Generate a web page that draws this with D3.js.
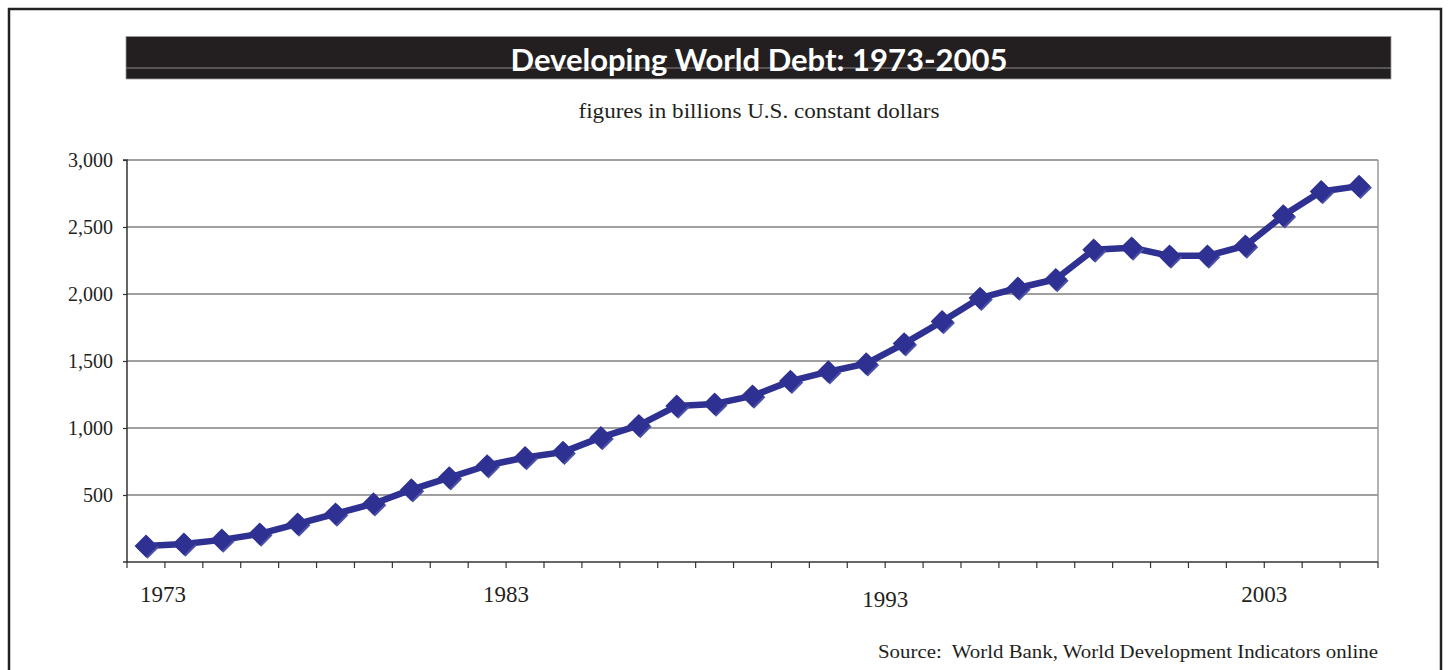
<!DOCTYPE html>
<html><head><meta charset="utf-8">
<script src="https://cdn.jsdelivr.net/npm/d3@7"></script>
<style>
html,body{margin:0;padding:0;background:#fff;}
svg{display:block;}
text{white-space:pre;}
</style></head>
<body>
<svg id="chart" width="1449" height="670"></svg>
<script>
const titleText = "Developing World Debt: 1973-2005";
const subtitleText = "figures in billions U.S. constant dollars";
const sourceText = "Source:  World Bank, World Development Indicators online";
const years = d3.range(1973, 2006);
const debt = [120,135,165,210,285,360,435,540,630,720,780,820,930,1020,1165,1180,1240,1350,1420,1480,1630,1795,1970,2045,2110,2330,2345,2285,2285,2360,2585,2765,2805];
const yTicks = [500,1000,1500,2000,2500,3000];
const xLabelYears = [1973,1983,1993,2003];

const svg = d3.select("#chart");
const plot = {left:127, right:1378, top:160, bottom:562};

// outer frame
svg.append("rect").attr("x",9).attr("y",9).attr("width",1432).attr("height",700)
  .attr("fill","none").attr("stroke","#222").attr("stroke-width",2.5);

// title bar
svg.append("rect").attr("x",126).attr("y",36.5).attr("width",1265).attr("height",42.5)
  .attr("fill","#231f20").attr("stroke","#999").attr("stroke-width",0.8);
svg.append("line").attr("x1",126).attr("x2",1391).attr("y1",68).attr("y2",68)
  .attr("stroke","#8a8a8a").attr("stroke-width",1);
svg.append("text").attr("x",759).attr("y",71).attr("text-anchor","middle")
  .attr("font-family","Lato, 'Open Sans', sans-serif").attr("font-weight","bold")
  .attr("font-size",31).attr("fill","#fff")
  .attr("textLength",497).attr("lengthAdjust","spacingAndGlyphs")
  .text(titleText);

svg.append("text").attr("x",759).attr("y",118).attr("text-anchor","middle")
  .attr("font-family","'Liberation Serif', serif").attr("font-size",20).attr("fill","#231f20")
  .attr("textLength",361).attr("lengthAdjust","spacingAndGlyphs")
  .text(subtitleText);

const x = d3.scaleBand().domain(years).range([plot.left, plot.right]).padding(0);
const y = d3.scaleLinear().domain([0,3000]).range([plot.bottom, plot.top]);

// gridlines
svg.append("g").selectAll("line").data(yTicks).join("line")
  .attr("x1",plot.left).attr("x2",plot.right)
  .attr("y1",d=>y(d)).attr("y2",d=>y(d))
  .attr("stroke","#808080").attr("stroke-width",1.5);

// right border
svg.append("line").attr("x1",plot.right).attr("x2",plot.right).attr("y1",plot.top).attr("y2",plot.bottom)
  .attr("stroke","#9a9a9a").attr("stroke-width",1.5);

// y axis
const yAxis = d3.axisLeft(y).tickValues(yTicks).tickSize(4).tickPadding(10)
  .tickFormat(d3.format(","));
const gy = svg.append("g").attr("transform",`translate(${plot.left},0)`).call(yAxis);
gy.select(".domain").attr("stroke","#333").attr("stroke-width",1.5).attr("d",`M-4,${plot.bottom}H0V${plot.top}H-4`);
gy.selectAll(".tick line").attr("stroke","#333").attr("stroke-width",1.2);
gy.selectAll(".tick text").attr("font-family","'Liberation Serif', serif").attr("font-size",20).attr("fill","#231f20");

// x axis: ticks at band boundaries
const boundaries = years.map(d=>x(d)).concat([x(years[years.length-1])+x.bandwidth()]);
const gx = svg.append("g");
gx.append("line").attr("x1",plot.left).attr("x2",plot.right).attr("y1",plot.bottom).attr("y2",plot.bottom)
  .attr("stroke","#333").attr("stroke-width",1.5);
gx.selectAll("line.tk").data(boundaries).join("line").attr("class","tk")
  .attr("x1",d=>d).attr("x2",d=>d).attr("y1",plot.bottom).attr("y2",plot.bottom+6)
  .attr("stroke","#333").attr("stroke-width",1.2);
gx.selectAll("text").data(xLabelYears).join("text")
  .attr("x",d=> d===1973 ? x(d)+x.bandwidth()-2 : x(d))
  .attr("y",d=> d===1993 ? 607 : 602)
  .attr("text-anchor","middle")
  .attr("font-family","'Liberation Serif', serif").attr("font-size",23).attr("fill","#231f20")
  .text(d=>d);

// line
const cx = d=>x(d)+x.bandwidth()/2;
const line = d3.line().x((d,i)=>cx(years[i])).y(d=>y(d));
svg.append("path").datum(debt).attr("d",line)
  .attr("fill","none").attr("stroke","#2e3192").attr("stroke-width",6.5).attr("stroke-linejoin","round");

// markers with slight shadow
const diamond = d3.symbol().type(d3.symbolDiamond2).size(330);
const mk = svg.append("g");
mk.selectAll("path.sh").data(debt).join("path").attr("class","sh")
  .attr("transform",(d,i)=>`translate(${cx(years[i])+1.5},${y(d)+1.5})`)
  .attr("d",diamond).attr("fill","#4a4fa8");
mk.selectAll("path.mk").data(debt).join("path").attr("class","mk")
  .attr("transform",(d,i)=>`translate(${cx(years[i])},${y(d)})`)
  .attr("d",diamond).attr("fill","#2e3192");

// source
svg.append("text").attr("x",1378).attr("y",658).attr("text-anchor","end")
  .attr("font-family","'Liberation Serif', serif").attr("font-size",18).attr("fill","#231f20")
  .attr("textLength",500).attr("lengthAdjust","spacingAndGlyphs")
  .text(sourceText);
</script>
</body></html>
